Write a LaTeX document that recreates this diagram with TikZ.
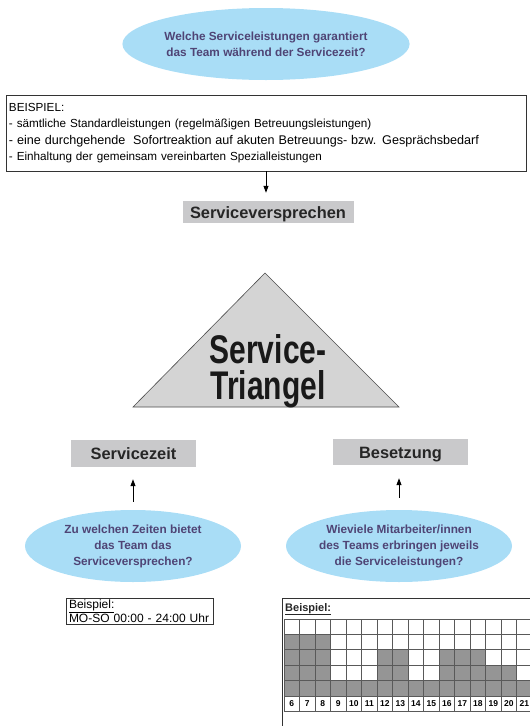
\documentclass[tikz,border=0pt]{standalone}
\usepackage{fontspec}
\setmainfont{Liberation Sans}
\newfontfamily\narrowfont[FakeStretch=0.75]{Liberation Sans}
\usepackage{tikz}
\usetikzlibrary{arrows.meta}
\usetikzlibrary{shapes.geometric}
\definecolor{svc-blue}{HTML}{A9DDF6}
\definecolor{svc-violet}{HTML}{4F4475}
\definecolor{svc-grey}{HTML}{C9C9CB}
\definecolor{svc-light}{HTML}{D4D4D4}
\definecolor{svc-dark}{HTML}{959595}

\begin{document}
\begin{tikzpicture}[x=1pt, y=-1pt]

    \useasboundingbox (0,0) rectangle (530,726);

    % questions
    \begin{scope}[every node/.style={ellipse, fill=svc-blue, text=svc-violet, align=center, inner sep=0pt,
                  font=\fontsize{11.8}{16}\selectfont\bfseries}]
        \node[minimum width=272, minimum height=72] (qleist) at (266,44) {Welche Serviceleistungen garantiert\\das Team während der Servicezeit?};
        \node[minimum width=216, minimum height=72] (qzeit) at (133,546) {Zu welchen Zeiten bietet\\das Team das\\Serviceversprechen?};
        \node[minimum width=214, minimum height=72] (qbes) at (399,546) {Wieviele Mitarbeiter/innen\\des Teams erbringen jeweils\\die Serviceleistungen?};
    \end{scope}

    % examples
    \begin{scope}[every node/.style={draw=black!80, line width=0.8pt, align=left, inner xsep=3pt}]
        \node[minimum width=520, minimum height=76, text width=514, font=\fontsize{11.7}{16.5}\selectfont] (bspleist) at (266,133)
            {BEISPIEL:\\
             - sämtliche Standardleistungen (regelmäßigen Betreuungsleistungen)\\
             {\fontsize{12.6}{16.5}\selectfont - eine durchgehende\ \ Sofortreaktion auf akuten Betreuungs- bzw. Gesprächsbedarf}\\
             - Einhaltung der gemeinsam vereinbarten Spezialleistungen};
        \node[minimum width=147, minimum height=26, text width=141, inner ysep=1pt, font=\fontsize{12}{12.5}\selectfont] (bspzeit) at (139.5,611)
            {\underline{Beispiel:}\\MO-SO 00:00 - 24:00 Uhr};
    \end{scope}

    % headings
    \begin{scope}[every node/.style={fill=svc-grey, text=black!85, inner sep=0pt, text height=12pt, text depth=0pt,
                  font=\fontsize{16.4}{18}\selectfont\bfseries}]
        \node[minimum width=171, minimum height=22] (sv) at (268,212) {Serviceversprechen};
        \node[minimum width=125, minimum height=27] (sz) at (133.5,453.5) {Servicezeit};
        \node[minimum width=135, minimum height=26] (bs) at (400.5,452) {Besetzung};
    \end{scope}

    % triangle
    \draw[draw=black!70, fill=svc-light, line width=0.6pt] (265,273) -- (399,407) -- (133,407) -- cycle;
    \begin{scope}[every node/.style={anchor=base, inner sep=0pt, text=black!90, text height=28pt,
                  font=\fontsize{40}{36}\narrowfont\bfseries}]
        \node[text depth=0pt] (tri1) at (268,363) {Service-};
        \node[text depth=4pt] (tri2) at (268,399) {Triangel};
    \end{scope}

    % arrows
    \begin{scope}[every edge/.style={draw, line width=1pt, -{Triangle[length=7pt, width=5pt]}}]
        \path (bspleist.south) edge[shorten >=8pt] (bspleist.south |- sv.north);
        \path (qzeit.north) edge[shorten <=8pt, shorten >=12pt] (qzeit.north |- sz.south);
        \path (qbes.north) edge[shorten <=12pt, shorten >=13pt] (qbes.north |- bs.south);
    \end{scope}

    % staffing chart
    \begin{scope}
        \clip (0,0) rectangle (530,726);
        \draw[draw=black!80, line width=0.8pt] (282,598) rectangle (545,740);
        \node[anchor=base west, inner sep=0pt, text=black!85, font=\fontsize{11}{12}\selectfont\bfseries] (bspbes) at (285,611) {\underline{Beispiel:}};

        \foreach \h [count=\i from 0] in {4,4,4,1,1,1,3,3,1,1,3,3,3,2,2,1} {
            \pgfmathtruncatemacro\hour{\i+6}
            \fill[svc-dark] ({284+\i*15.5},696) rectangle ++(15.5,{-\h*15.4});
            \node[inner sep=0pt, font=\fontsize{8.5}{9}\selectfont\bfseries] (hour\hour) at ({291.75+\i*15.5},704) {\hour};
        }
        \foreach \i in {0,...,16}
            \draw[draw=black!65, line width=0.8pt] ({284+\i*15.5},619) -- ({284+\i*15.5},711.4);
        \foreach \j in {0,...,6}
            \draw[draw=black!65, line width=0.8pt] (284,{619+\j*15.4}) -- (532,{619+\j*15.4});
    \end{scope}

\end{tikzpicture}
\end{document}
